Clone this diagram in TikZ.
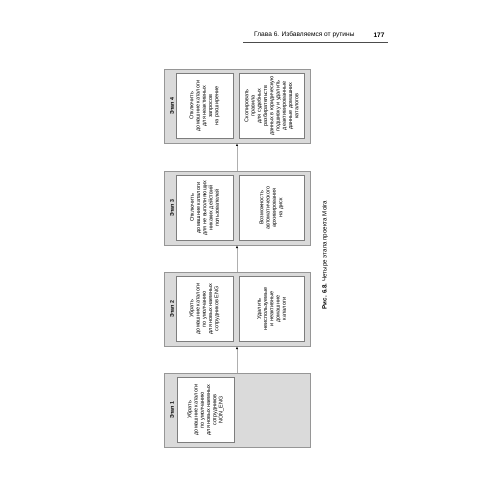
\documentclass[tikz,border=0pt]{standalone}
\usepackage{fontspec}
\setmainfont{Liberation Sans}
\usetikzlibrary{arrows.meta}
\definecolor{stagegray}{RGB}{218,218,218}
\definecolor{edgegray}{RGB}{150,150,150}
\definecolor{boxedge}{RGB}{125,125,125}
\definecolor{linegray}{RGB}{175,175,175}
\begin{document}
\begin{tikzpicture}[x=1bp,y=-1bp,
    stagebox/.style={draw=edgegray,fill=stagegray,line width=0.8bp,minimum width=146bp,minimum height=74bp,inner sep=0pt},
    stagetitle/.style={rotate=90,font=\fontsize{5.3}{6}\selectfont\bfseries},
    taskbox/.style={draw=boxedge,fill=white,line width=0.6bp,rotate=90,minimum width=65bp,inner sep=1bp,align=center,font=\fontsize{5.5}{6.3}\selectfont},
    flow/.style={draw=linegray,line width=0.7bp,-{Latex[length=2.6bp,width=2.2bp,color=black]}}]
    \useasboundingbox (0,0) rectangle (500,500);
    % header
    \node[anchor=east,font=\fontsize{6.6}{8}\selectfont] (chapter) at (358,35) {Глава 6. Избавляемся от рутины};
    \node[anchor=east,font=\fontsize{6.6}{8}\selectfont\bfseries] (pageno) at (388,35) {177};
    \draw[black!70,line width=0.4bp] (243,42) -- (388,42);
    % stages
    \node[stagebox] (stage1) at (237,410) {};
    \node[stagebox] (stage2) at (237,309) {};
    \node[stagebox] (stage3) at (237,208) {};
    \node[stagebox] (stage4) at (237,106) {};
    \node[stagetitle] (title1) at (172,410) {Этап 1};
    \node[stagetitle] (title2) at (172,309) {Этап 2};
    \node[stagetitle] (title3) at (172,208) {Этап 3};
    \node[stagetitle] (title4) at (172,106) {Этап 4};
    \node[taskbox,minimum height=57bp] (task1a) at (205.5,410) {Убрать\\домашние каталоги\\по умолчанию\\для новых наемных\\сотрудников\\NON\_ENG};
    \node[taskbox,minimum height=57bp] (task2a) at (204.5,309) {Убрать\\домашние каталоги\\по умолчанию\\для новых наемных\\сотрудников ENG};
    \node[taskbox,minimum height=65bp] (task2b) at (271.5,309) {Удалить\\неиспользуемые\\и неактивные\\домашние\\каталоги};
    \node[taskbox,minimum height=57bp] (task3a) at (204.5,208) {Отключить\\домашние каталоги\\для не выполняющих\\никаких действий\\пользователей};
    \node[taskbox,minimum height=65bp] (task3b) at (271.5,208) {Возможность\\автоматического\\архивирования\\на диск};
    \node[taskbox,minimum height=57bp] (task4a) at (204.5,106) {Отключить\\домашние каталоги\\для неактивных\\запросов\\на расширение};
    \node[taskbox,minimum height=65bp] (task4b) at (271.5,106) {Скопировать\\правила\\для судебных\\разбирательств\\данных в юридическую\\подшивку и удалить\\деактивированные\\данные домашних\\каталогов};
    \draw[flow] (stage1) -- (stage2);
    \draw[flow] (stage2) -- (stage3);
    \draw[flow] (stage3) -- (stage4);
    % caption
    \node[rotate=90,font=\fontsize{6.2}{7}\selectfont] (caption) at (325,255) {\textbf{Рис. 6.8.} Четыре этапа проекта Moira};
\end{tikzpicture}
\end{document}
